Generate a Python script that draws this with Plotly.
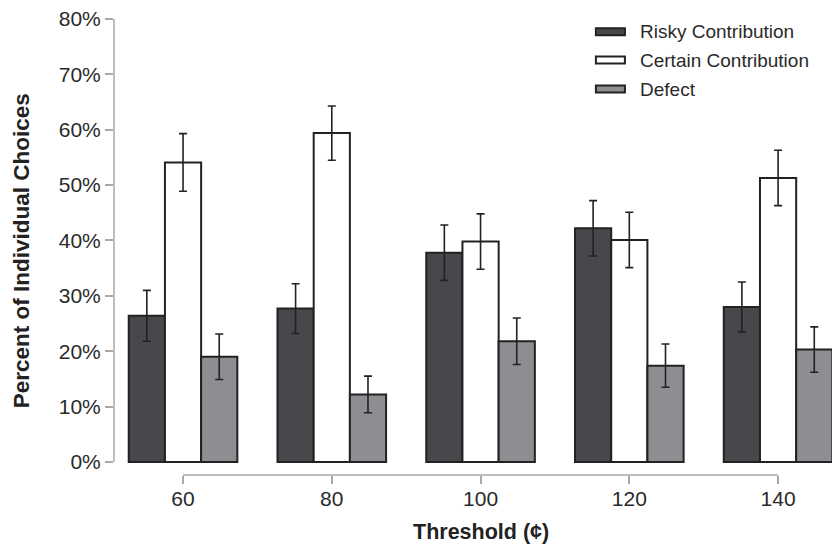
import plotly.graph_objects as go

# ---- data ----
thresholds = [60, 80, 100, 120, 140]
tick_labels = ["60", "80", "100", "120", "140"]
series_names = ["Risky Contribution", "Certain Contribution", "Defect"]
risky = [0.264, 0.277, 0.378, 0.422, 0.280]
risky_err = [0.046, 0.045, 0.050, 0.050, 0.045]
certain = [0.541, 0.594, 0.398, 0.401, 0.513]
certain_err = [0.052, 0.049, 0.050, 0.050, 0.050]
defect = [0.190, 0.122, 0.218, 0.174, 0.203]
defect_err = [0.041, 0.033, 0.042, 0.039, 0.041]
y_ticks = [0, 0.1, 0.2, 0.3, 0.4, 0.5, 0.6, 0.7, 0.8]

# ---- layout geometry ----
W, H = 832, 545
L, T, R, B = 114.3, 19.3, 0, 70
PW = W - L - R
PH = H - T - B

def px_x(px):
    return (px - L) / PW

def px_y(py):
    return (H - B - py) / PH

fills = ["#47484b", "#ffffff", "#8d8e92"]
outline = "#222222"
axis_grey = "#a8a8a8"
font_fam = "Liberation Sans, Arial, Helvetica, sans-serif"

fig = go.Figure()
for name, vals, errs, col in zip(series_names, [risky, certain, defect],
                                 [risky_err, certain_err, defect_err], fills):
    fig.add_trace(go.Bar(
        x=thresholds, y=vals, name=name,
        marker=dict(color=col, line=dict(color=outline, width=2)),
        error_y=dict(type="data", array=errs, visible=True,
                     color=outline, thickness=1.6, width=4),
        showlegend=False,
    ))

shapes = []
# y axis line from 0 to 80%
shapes.append(dict(type="line", xref="paper", yref="y", x0=0, x1=0, y0=0, y1=0.8,
                   line=dict(color=axis_grey, width=1.5)))
# x axis line from first to last threshold
shapes.append(dict(type="line", xref="x", yref="paper", x0=thresholds[0], x1=thresholds[-1],
                   y0=0, y1=0, line=dict(color=axis_grey, width=1.5)))

annotations = []
# manual legend
leg_rows_y = [32.0, 60.3, 89.3]
for name, col, cy in zip(series_names, fills, leg_rows_y):
    shapes.append(dict(type="rect", xref="paper", yref="paper",
                       x0=px_x(596), x1=px_x(625), y0=px_y(cy + 3.5), y1=px_y(cy - 3.5),
                       fillcolor=col, line=dict(color=outline, width=2)))
    annotations.append(dict(text=name, xref="paper", yref="paper",
                            x=px_x(638), y=px_y(cy), xanchor="left", yanchor="middle",
                            showarrow=False,
                            font=dict(family=font_fam, size=19, color="#2a2a2a")))

annotations.append(dict(text="<b>Threshold (¢)</b>", xref="paper", yref="paper",
                        x=px_x(481), y=px_y(531.7), xanchor="center", yanchor="middle",
                        showarrow=False, font=dict(family=font_fam, size=21.5, color="#222")))
annotations.append(dict(text="<b>Percent of Individual Choices</b>", xref="paper", yref="paper",
                        x=px_x(21.7), y=px_y(251), xanchor="center", yanchor="middle",
                        textangle=-90, showarrow=False,
                        font=dict(family=font_fam, size=22.5, color="#222")))

x_per_px = 20 / 148.7
fig.update_layout(
    width=W, height=H,
    margin=dict(l=L, r=R, t=T, b=B, pad=0),
    plot_bgcolor="white", paper_bgcolor="white",
    barmode="group", bargap=0.27, bargroupgap=0.0,
    xaxis=dict(range=[60 - (183.3 - L) * x_per_px, 60 + (W - 183.3) * x_per_px],
               tickmode="array", tickvals=thresholds, ticktext=tick_labels,
               ticks="outside", ticklen=8, tickcolor=axis_grey, tickwidth=1.5,
               ticklabelstandoff=-3,
               showline=False, showgrid=False, zeroline=False,
               tickfont=dict(family=font_fam, size=21, color="#2a2a2a")),
    yaxis=dict(range=[-(13 / 553), 0.8], tickmode="array", tickvals=y_ticks,
               tickformat=".0%", ticks="outside", ticklen=8, tickcolor=axis_grey,
               tickwidth=1.5, showline=False, showgrid=False, zeroline=False,
               tickfont=dict(family=font_fam, size=21, color="#2a2a2a")),
    shapes=shapes, annotations=annotations,
)

fig.write_html("out.html", config={"displayModeBar": False},
               post_script="document.body.style.margin='0';document.body.style.overflow='hidden';")
